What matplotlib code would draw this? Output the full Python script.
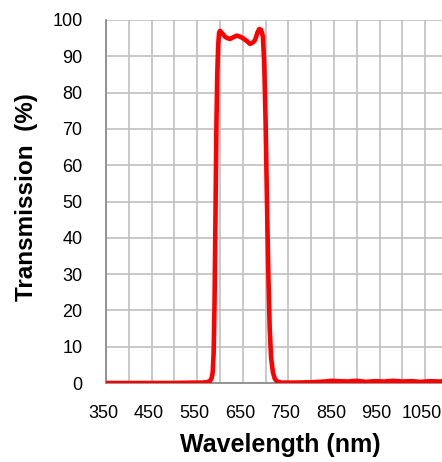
import numpy as np
import matplotlib.pyplot as plt
import matplotlib.transforms as mtransforms
from matplotlib.ticker import MultipleLocator, FuncFormatter

plt.rcParams['font.family'] = ['Liberation Sans', 'DejaVu Sans']

wavelength = [350, 400, 450, 500, 540, 560, 570, 578, 582, 584, 586, 588, 590, 592,
              594, 596, 598, 600, 605, 611, 616, 622, 630, 637, 644, 650, 658, 666,
              672, 677, 682, 686, 690, 694, 697, 700, 703, 706, 709, 712, 716, 720,
              725, 735, 760, 800, 830, 845, 860, 880, 900, 920, 940, 960, 980, 1000,
              1020, 1040, 1060, 1080, 1100]
transmission = [0.0, 0.0, 0.0, 0.0, 0.1, 0.1, 0.2, 0.5, 1.5, 3, 8, 22, 45, 70,
                85, 93, 96.5, 97.0, 96.3, 95.4, 95.0, 94.8, 95.3, 95.7, 95.4, 95.0, 94.3, 93.4,
                93.8, 94.5, 96.5, 97.5, 97.3, 95.5, 88, 72, 50, 30, 15, 7, 3, 1.2,
                0.4, 0.1, 0.1, 0.2, 0.4, 0.6, 0.5, 0.4, 0.6, 0.3, 0.5, 0.4, 0.6, 0.4,
                0.5, 0.3, 0.5, 0.4, 0.5]

fig = plt.figure(figsize=(4.42, 4.62), dpi=100)
ax = fig.add_axes([106 / 442, 79 / 462, 342 / 442, 363 / 462])

ax.plot(wavelength, transmission, color='#ff0000', linewidth=3.3, solid_capstyle='round', zorder=3)

ax.set_xlim(350, 1100)
ax.set_ylim(0, 100)
ax.xaxis.set_major_locator(MultipleLocator(50))
ax.yaxis.set_major_locator(MultipleLocator(10))
ax.xaxis.set_major_formatter(FuncFormatter(lambda v, p: f'{int(v)}' if int(v) % 100 == 50 and v < 1100 else ''))
ax.grid(True, color='#c0c0c0', linewidth=1.2)
ax.set_axisbelow(True)

for s in ['top', 'right']:
    ax.spines[s].set_visible(False)
ax.spines['left'].set_color('#8c8c8c')
ax.spines['left'].set_linewidth(1.3)
ax.spines['bottom'].set_color('#8c8c8c')
ax.spines['bottom'].set_linewidth(1.3)

ax.tick_params(axis='both', length=0, labelsize=13, colors='black')
ax.tick_params(axis='y', pad=17)
ax.tick_params(axis='x', pad=16)

# nudge x tick labels a little to the left, like the original
shift = mtransforms.ScaledTranslation(-3 / 100, 0, fig.dpi_scale_trans)
for lbl in ax.get_xticklabels():
    lbl.set_transform(lbl.get_transform() + shift)

fig.text(27 / 442, 1 - 197 / 462, 'Transmission  (%)', rotation=90, ha='center', va='center',
         fontsize=17.5, fontweight='bold')
fig.text(280 / 442, 1 - 445 / 462, 'Wavelength (nm)', ha='center', va='center',
         fontsize=18, fontweight='bold')

fig.savefig('out.png', dpi=100)
